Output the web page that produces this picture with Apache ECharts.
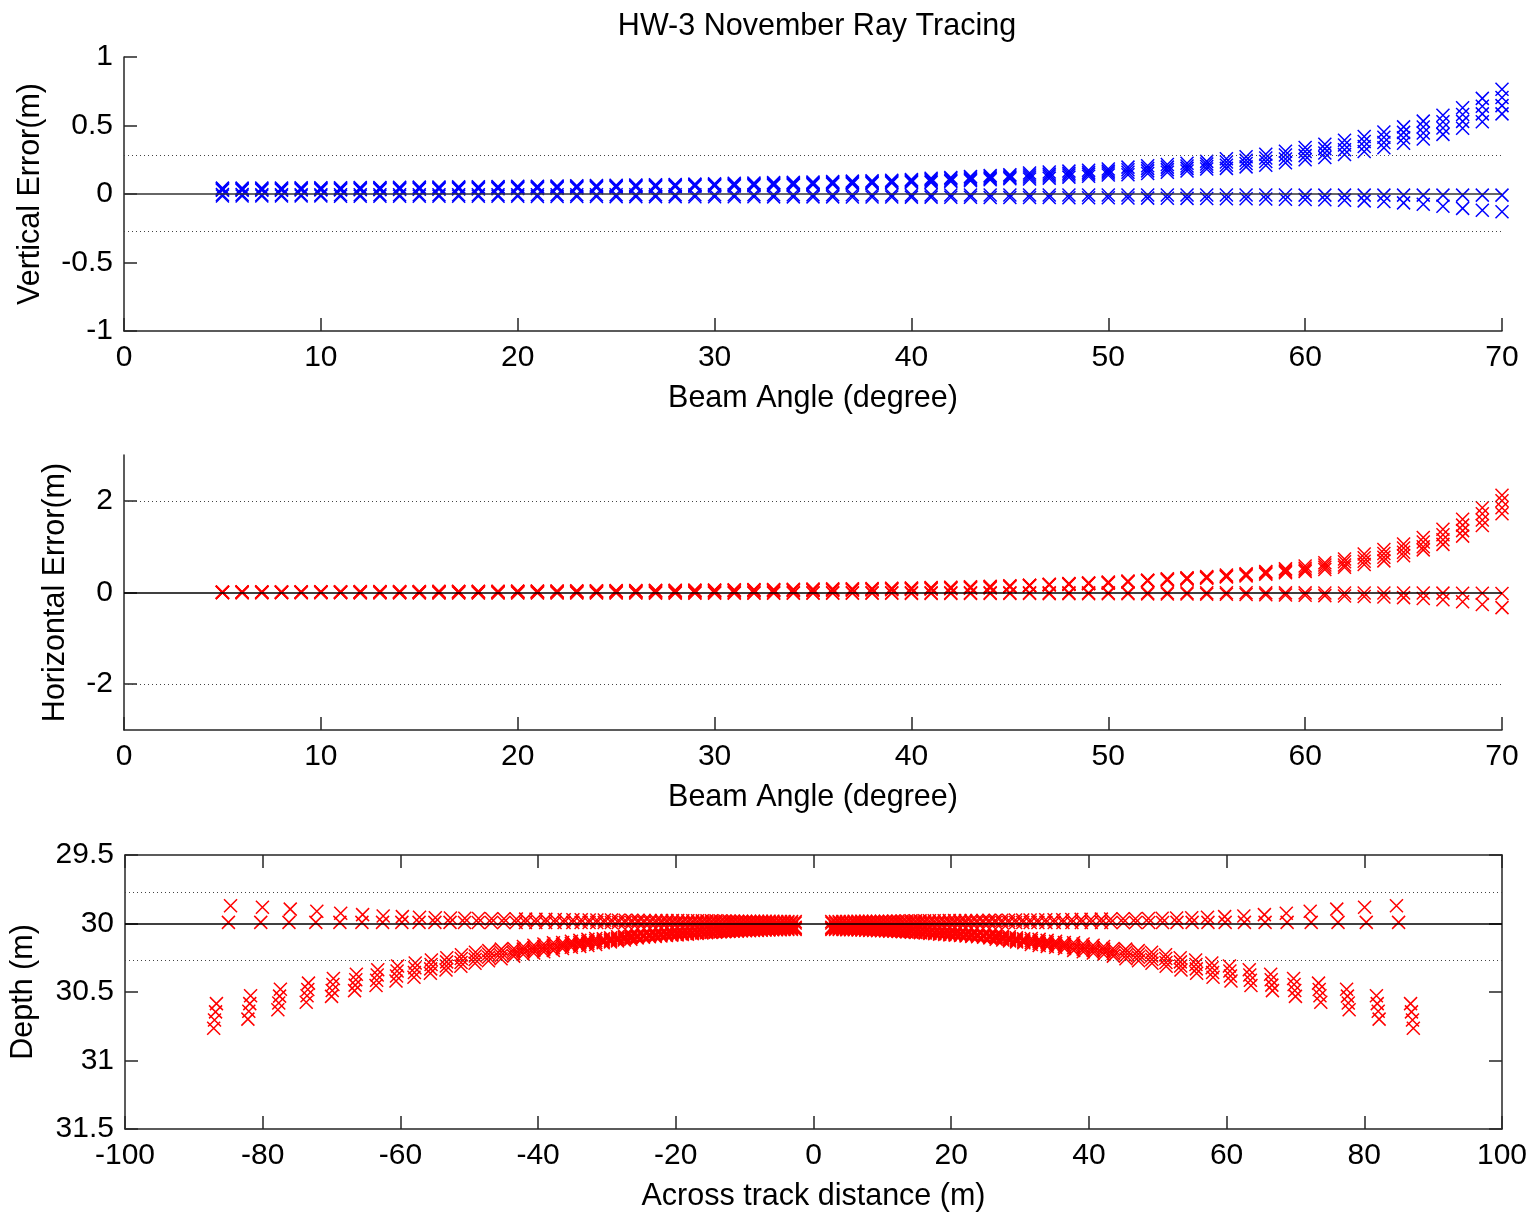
<!DOCTYPE html>
<html>
<head>
<meta charset="utf-8">
<script src="https://cdn.jsdelivr.net/npm/echarts@6/dist/echarts.min.js"></script>
<style>
  html, body { margin: 0; padding: 0; background: #fff; }
  #chart { width: 1535px; height: 1214px; }
</style>
</head>
<body>
<div id="chart"></div>
<script>
// ---------------- DATA ----------------
const TITLE = 'HW-3 November Ray Tracing';

const ANGLES = [
  5, 6, 7, 8, 9, 10, 11, 12, 13, 14,
  15, 16, 17, 18, 19, 20, 21, 22, 23, 24,
  25, 26, 27, 28, 29, 30, 31, 32, 33, 34,
  35, 36, 37, 38, 39, 40, 41, 42, 43, 44,
  45, 46, 47, 48, 49, 50, 51, 52, 53, 54,
  55, 56, 57, 58, 59, 60, 61, 62, 63, 64,
  65, 66, 67, 68, 69, 70
];

// Vertical error (m), profiles that diverge
const V_U1 = [
  .043,.043,.044,.044,.045,.046,.046,.047,.048,.049,
  .050,.051,.052,.053,.054,.056,.057,.059,.060,.062,
  .064,.066,.068,.070,.072,.074,.078,.080,.083,.085,
  .088,.091,.094,.097,.101,.105,.115,.121,.127,.134,
  .141,.153,.160,.167,.174,.182,.196,.206,.215,.224,
  .238,.257,.272,.290,.312,.340,.363,.392,.420,.453,
  .490,.532,.575,.630,.698,.765
];
const V_U2 = [
  .038,.038,.039,.039,.040,.041,.041,.042,.043,.044,
  .045,.046,.047,.048,.049,.051,.052,.054,.055,.057,
  .059,.061,.063,.065,.067,.069,.071,.073,.076,.078,
  .081,.084,.087,.090,.094,.098,.105,.111,.117,.124,
  .131,.138,.145,.152,.159,.167,.177,.187,.196,.205,
  .219,.234,.247,.263,.284,.310,.331,.357,.383,.414,
  .450,.489,.528,.580,.641,.705
];
const V_U3 = [
  .032,.032,.033,.033,.034,.035,.035,.036,.037,.038,
  .039,.040,.041,.042,.043,.045,.046,.048,.049,.051,
  .053,.055,.057,.059,.061,.063,.065,.067,.070,.072,
  .075,.078,.081,.084,.088,.092,.095,.101,.107,.114,
  .121,.124,.131,.138,.145,.153,.159,.169,.178,.187,
  .201,.210,.223,.237,.256,.280,.299,.323,.347,.376,
  .410,.445,.482,.530,.585,.645
];
const V_U4 = [
  .027,.027,.028,.028,.029,.030,.030,.031,.032,.033,
  .034,.035,.036,.037,.038,.040,.041,.043,.044,.046,
  .048,.050,.052,.054,.056,.058,.058,.060,.063,.065,
  .068,.071,.074,.077,.081,.085,.085,.091,.097,.104,
  .111,.109,.116,.123,.130,.138,.140,.150,.159,.168,
  .182,.187,.198,.210,.228,.250,.267,.288,.310,.337,
  .370,.402,.435,.480,.528,.585
];
// Vertical error (m), profiles that stay near zero
const V_L1 = [
  -.004,-.004,-.005,-.005,-.005,-.005,-.005,-.005,-.005,-.005,
  -.005,-.005,-.005,-.005,-.006,-.006,-.006,-.006,-.006,-.006,
  -.006,-.006,-.006,-.006,-.006,-.006,-.006,-.006,-.006,-.006,
  -.006,-.006,-.006,-.007,-.007,-.007,-.007,-.007,-.007,-.007,
  -.007,-.007,-.007,-.007,-.007,-.007,-.007,-.007,-.007,-.007,
  -.007,-.007,-.007,-.007,-.007,-.008,-.008,-.008,-.008,-.008,
  -.008,-.008,-.008,-.008,-.008,-.008
];
const V_L2 = [
  -.015,-.015,-.015,-.015,-.015,-.015,-.016,-.016,-.016,-.016,
  -.016,-.016,-.017,-.017,-.017,-.017,-.018,-.018,-.018,-.018,
  -.019,-.019,-.019,-.019,-.020,-.020,-.020,-.020,-.021,-.021,
  -.021,-.021,-.022,-.022,-.022,-.023,-.023,-.024,-.024,-.025,
  -.025,-.026,-.026,-.027,-.027,-.028,-.029,-.030,-.031,-.032,
  -.033,-.034,-.035,-.037,-.038,-.040,-.042,-.045,-.050,-.055,
  -.065,-.075,-.090,-.105,-.118,-.130
];

// Horizontal error (m)
const H_U1 = [
  .012,.013,.014,.015,.016,.017,.018,.019,.020,.021,
  .022,.024,.025,.027,.028,.030,.032,.034,.036,.038,
  .041,.043,.046,.049,.052,.055,.059,.063,.067,.071,
  .075,.079,.083,.088,.094,.100,.108,.116,.124,.133,
  .146,.160,.180,.195,.210,.230,.250,.270,.300,.320,
  .350,.380,.410,.460,.520,.580,.650,.730,.840,.940,
  1.060,1.200,1.380,1.600,1.850,2.120
];
const H_U2 = [
  .008,.009,.010,.011,.012,.013,.014,.015,.016,.017,
  .018,.019,.020,.022,.023,.025,.026,.028,.030,.032,
  .034,.036,.039,.041,.044,.047,.050,.053,.057,.061,
  .065,.069,.073,.078,.084,.090,.098,.106,.114,.124,
  .138,.155,.175,.190,.200,.220,.240,.260,.290,.310,
  .330,.360,.390,.440,.490,.530,.600,.670,.760,.850,
  .970,1.100,1.260,1.470,1.720,2.000
];
const H_U3 = [
  .005,.006,.007,.007,.008,.009,.010,.010,.011,.012,
  .013,.014,.015,.016,.017,.019,.020,.022,.023,.025,
  .027,.029,.031,.033,.035,.038,.041,.044,.047,.050,
  .054,.058,.062,.067,.073,.079,.086,.094,.103,.112,
  .130,.150,.170,.180,.195,.210,.235,.255,.280,.300,
  .320,.350,.380,.420,.460,.490,.550,.600,.680,.770,
  .880,1.000,1.150,1.350,1.580,1.850
];
const H_U4 = [
  .002,.003,.003,.004,.004,.005,.005,.006,.006,.007,
  .008,.009,.010,.011,.012,.013,.014,.015,.017,.018,
  .020,.021,.023,.025,.027,.029,.031,.034,.036,.039,
  .042,.046,.050,.055,.061,.067,.074,.082,.091,.100,
  .122,.145,.165,.175,.190,.205,.230,.250,.270,.290,
  .310,.340,.360,.400,.430,.460,.500,.550,.610,.690,
  .800,.930,1.050,1.230,1.460,1.720
];
const H_L1 = [
  -.002,-.002,-.002,-.002,-.002,-.002,-.002,-.002,-.002,-.002,
  -.003,-.003,-.003,-.003,-.003,-.003,-.003,-.003,-.003,-.003,
  -.003,-.003,-.003,-.003,-.004,-.004,-.004,-.004,-.004,-.004,
  -.004,-.004,-.004,-.004,-.005,-.005,-.005,-.005,-.005,-.005,
  -.005,-.005,-.005,-.005,-.006,-.006,-.006,-.006,-.006,-.006,
  -.006,-.007,-.007,-.008,-.008,-.008,-.009,-.009,-.010,-.010,
  -.011,-.012,-.014,-.016,-.018,-.020
];
const H_L2 = [
  -.006,-.006,-.006,-.007,-.007,-.007,-.007,-.008,-.008,-.008,
  -.008,-.009,-.009,-.009,-.010,-.010,-.010,-.011,-.011,-.011,
  -.012,-.012,-.013,-.013,-.013,-.014,-.014,-.015,-.015,-.016,
  -.016,-.017,-.017,-.018,-.018,-.019,-.020,-.020,-.021,-.022,
  -.022,-.023,-.024,-.025,-.026,-.027,-.028,-.030,-.031,-.033,
  -.035,-.040,-.045,-.050,-.055,-.060,-.068,-.076,-.086,-.098,
  -.112,-.130,-.160,-.200,-.260,-.330
];

// Nominal across-track distance of each beam (m), and nominal depth (m)
const ACROSS_NOMINAL = [
  2.66, 3.20, 3.73, 4.27, 4.81, 5.36, 5.91, 6.46, 7.02, 7.58,
  8.15, 8.72, 9.29, 9.88, 10.47, 11.06, 11.67, 12.28, 12.90, 13.53,
  14.18, 14.83, 15.49, 16.16, 16.85, 17.55, 18.27, 19.00, 19.74, 20.51,
  21.29, 22.09, 22.91, 23.75, 24.62, 25.51, 26.43, 27.37, 28.35, 29.36,
  30.40, 31.48, 32.60, 33.76, 34.97, 36.23, 37.54, 38.91, 40.34, 41.84,
  43.2, 45.0, 46.8, 48.7, 50.7, 52.8, 55.0, 57.3, 59.8, 62.6,
  65.6, 68.8, 72.3, 76.2, 80.3, 85.0
];
const DEPTH_NOMINAL = 30;

// Reference (dotted) limits
const V_LIMITS = [0.28, -0.27];
const H_LIMITS = [2, -2];
const DEPTH_LIMITS = [29.765, 30.275];

// Axis ranges and tick labels
const ANGLE_TICKS = { min: 0, max: 70, interval: 10 };
const V_TICKS = { min: -1, max: 1, interval: 0.5 };
const H_RANGE = { min: -3, max: 3 };
const H_TICK_VALUES = [-2, 0, 2];
const ACROSS_TICKS = { min: -100, max: 100, interval: 20 };
const DEPTH_TICKS = { min: 29.5, max: 31.5, interval: 0.5 };

// ---------------- CHART ----------------
const FONT = '"Liberation Sans", Arial, Helvetica, sans-serif';
const AX = '#262626';
const XSYM = 'path://M0,0L10,10M10,0L0,10';
const TICK_FS = 30;
const NAME_FS = 30.5;

const V_SETS = [V_U1, V_U2, V_U3, V_U4, V_L1, V_L2];
const H_SETS = [H_U1, H_U2, H_U3, H_U4, H_L1, H_L2];

function lbl(margin, extra) {
  return Object.assign({ color: '#000', fontSize: TICK_FS, fontFamily: FONT, margin: margin }, extra || {});
}

function axisCommon(extra) {
  return Object.assign({
    type: 'value',
    axisLine: { show: true, onZero: false, lineStyle: { color: AX, width: 1.5 } },
    axisTick: { show: true, inside: true, length: 13, lineStyle: { color: AX, width: 1.5 } },
    axisLabel: lbl(10),
    splitLine: { show: false },
    nameLocation: 'middle',
    nameTextStyle: { color: '#000', fontSize: NAME_FS, fontFamily: FONT }
  }, extra);
}

function scatter(xi, yi, color, data) {
  return {
    type: 'scatter', xAxisIndex: xi, yAxisIndex: yi, data: data,
    symbol: XSYM, symbolSize: 13, symbolKeepAspect: true,
    itemStyle: { color: 'rgba(0,0,0,0)', borderColor: color, borderWidth: 1.5, opacity: 1 },
    emphasis: { disabled: true }, silent: true, z: 3
  };
}

function refLines(xi, yi, values, style, z) {
  return {
    type: 'line', xAxisIndex: xi, yAxisIndex: yi, data: [], silent: true, z: z,
    markLine: {
      silent: true, symbol: 'none', animation: false, label: { show: false },
      lineStyle: style,
      data: values.map(v => ({ yAxis: v }))
    }
  };
}

const series = [];
V_SETS.forEach(arr => series.push(scatter(0, 0, '#0000ff', ANGLES.map((a, i) => [a, arr[i]]))));
H_SETS.forEach(arr => series.push(scatter(1, 1, '#ff0000', ANGLES.map((a, i) => [a, arr[i]]))));
V_SETS.forEach((varr, s) => {
  const harr = H_SETS[s];
  const pts = [];
  ANGLES.forEach((a, i) => {
    const x = ACROSS_NOMINAL[i] + harr[i];
    const d = DEPTH_NOMINAL + varr[i];
    pts.push([-x, d]);
    pts.push([x, d]);
  });
  series.push(scatter(2, 2, '#ff0000', pts));
});

const DOT = { color: '#444', width: 1, type: [1, 3] };
series.push(refLines(0, 0, V_LIMITS, DOT, 1));
series.push(refLines(1, 1, H_LIMITS, DOT, 1));
series.push(refLines(2, 2, DEPTH_LIMITS, DOT, 1));
series.push(refLines(0, 0, [0], { color: '#333', width: 1.6, type: 'solid' }, 6));
series.push(refLines(1, 1, [0], { color: '#000', width: 1.6, type: 'solid' }, 6));
series.push(refLines(2, 2, [DEPTH_NOMINAL], { color: '#000', width: 1.6, type: 'solid' }, 6));

const option = {
  animation: false,
  backgroundColor: '#fff',
  title: {
    text: TITLE, left: 812, top: 6, textAlign: 'center',
    textStyle: { color: '#000', fontSize: 30.5, fontWeight: 'normal', fontFamily: FONT }
  },
  grid: [
    { left: 124, top: 57, width: 1378, height: 274 },
    { left: 124, top: 455, width: 1378, height: 275 },
    { left: 124, top: 855, width: 1378, height: 274 }
  ],
  xAxis: [
    axisCommon(Object.assign({ gridIndex: 0, name: 'Beam Angle (degree)', nameGap: 52,
      axisLabel: lbl(12) }, ANGLE_TICKS)),
    axisCommon(Object.assign({ gridIndex: 1, name: 'Beam Angle (degree)', nameGap: 52,
      axisLabel: lbl(12) }, ANGLE_TICKS)),
    axisCommon(Object.assign({ gridIndex: 2, name: 'Across track distance (m)', nameGap: 52,
      axisLabel: lbl(12) }, ACROSS_TICKS)),
    axisCommon(Object.assign({ gridIndex: 2, position: 'top', axisLabel: { show: false } }, ACROSS_TICKS))
  ],
  yAxis: [
    axisCommon(Object.assign({ gridIndex: 0, name: 'Vertical Error(m)', nameGap: 78,
      axisLabel: lbl(11) }, V_TICKS)),
    axisCommon(Object.assign({ gridIndex: 1, name: 'Horizontal Error(m)', nameGap: 53,
      axisLabel: lbl(11, { customValues: H_TICK_VALUES }),
      axisTick: { show: true, inside: true, length: 13, customValues: H_TICK_VALUES, lineStyle: { color: AX, width: 1.5 } }
    }, H_RANGE)),
    axisCommon(Object.assign({ gridIndex: 2, name: 'Depth (m)', nameGap: 86, inverse: true,
      axisLabel: lbl(11) }, DEPTH_TICKS)),
    axisCommon(Object.assign({ gridIndex: 2, position: 'right', inverse: true, axisLabel: { show: false } }, DEPTH_TICKS))
  ],
  series: series
};

const chart = echarts.init(document.getElementById('chart'), null, { renderer: 'canvas' });
chart.setOption(option);
</script>
</body>
</html>
